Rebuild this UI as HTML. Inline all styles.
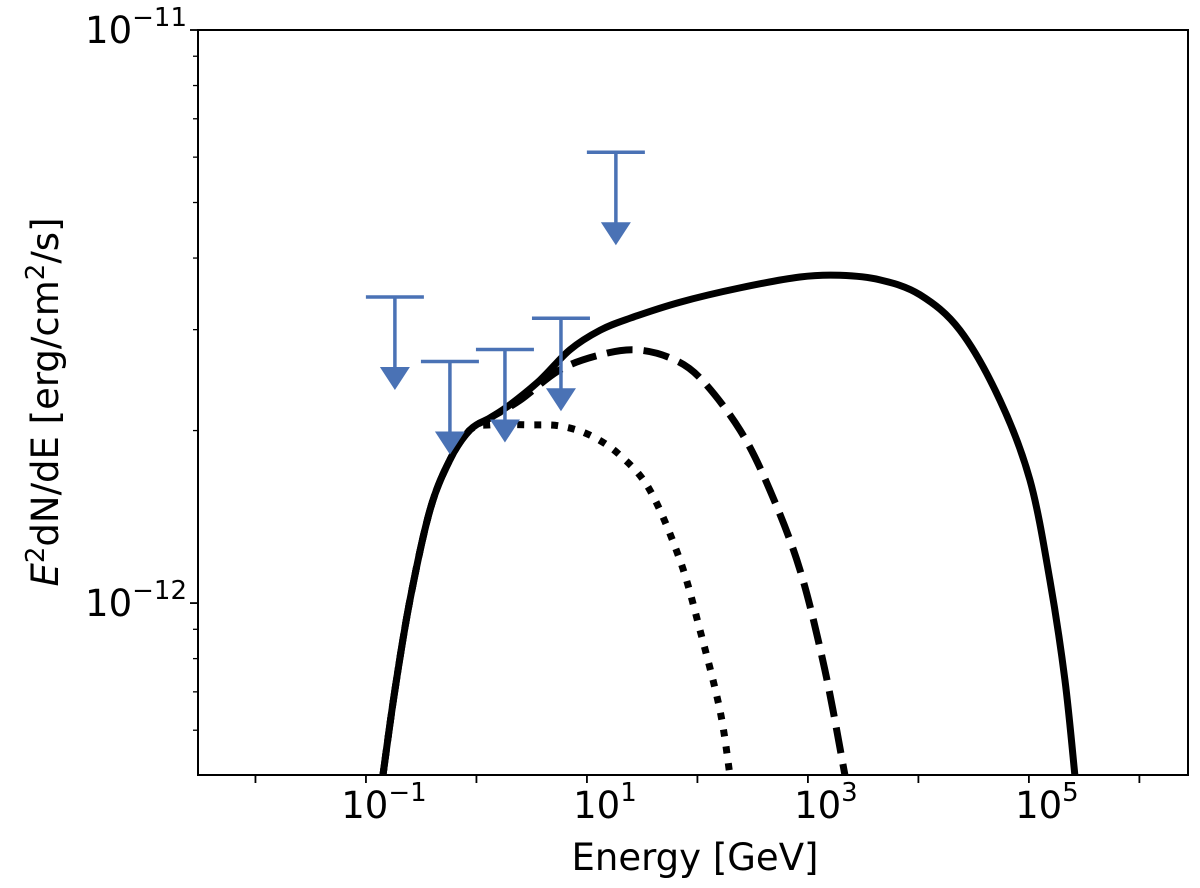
<!DOCTYPE html>
<html><head><meta charset="utf-8"><style>
body{margin:0;background:#fff;}
svg{display:block;font-family:"DejaVu Sans","Liberation Sans",sans-serif;}
</style></head><body>
<svg id="chart" width="1200" height="888" viewBox="0 0 1200 888">
<defs><clipPath id="clip"><rect x="198" y="30" width="990" height="745"/></clipPath></defs>
<rect x="0" y="0" width="1200" height="888" fill="#fff"/>
<g id="curves" clip-path="url(#clip)"></g>
<g id="limits"></g>
<g id="axes"></g>
<rect x="198" y="30" width="990" height="745" fill="none" stroke="#000" stroke-width="2"/>
<text x="695" y="870" font-size="37" text-anchor="middle">Energy [GeV]</text>
<text transform="translate(58,402) rotate(-90)" font-size="37" text-anchor="middle"><tspan font-style="italic">E</tspan><tspan dy="-14" font-size="26">2</tspan><tspan dy="14">dN/dE [erg/cm</tspan><tspan dy="-14" font-size="26">2</tspan><tspan dy="14">/s]</tspan></text>
</svg>
<script>
const ns="http://www.w3.org/2000/svg";
// data: log10(E/GeV) and log10(flux erg/cm2/s)
const solidLogE=[-0.846,-0.738,-0.602,-0.421,-0.240,-0.059,0.122,0.303,0.575,0.846,1.118,1.389,1.842,2.385,2.928,3.290,3.652,4.014,4.376,4.738,5.009,5.190,5.326,5.416];
const solidLogF=[-12.300,-12.152,-11.995,-11.838,-11.750,-11.698,-11.677,-11.654,-11.611,-11.558,-11.524,-11.503,-11.475,-11.450,-11.431,-11.428,-11.436,-11.462,-11.524,-11.646,-11.785,-11.960,-12.134,-12.300];
const dashLogE=[-0.846,-0.738,-0.602,-0.421,-0.240,-0.059,0.122,0.394,0.756,1.118,1.434,1.751,2.023,2.385,2.656,2.928,3.154,3.335];
const dashLogF=[-12.300,-12.152,-11.995,-11.838,-11.750,-11.698,-11.677,-11.646,-11.593,-11.567,-11.558,-11.572,-11.607,-11.698,-11.803,-11.942,-12.117,-12.300];
const dotLogE=[-0.846,-0.738,-0.602,-0.421,-0.240,-0.059,0.122,0.484,0.756,1.027,1.299,1.570,1.842,2.023,2.204,2.294];
const dotLogF=[-12.300,-12.152,-11.995,-11.838,-11.750,-11.698,-11.689,-11.689,-11.691,-11.707,-11.742,-11.803,-11.925,-12.047,-12.187,-12.300];
const ulLogE=[-0.738,-0.240,0.258,0.765,1.262];
const ulFlux=[3.42e-12,2.64e-12,2.77e-12,3.14e-12,6.12e-12];
const xTickExp=[-1,1,3,5];
const yTickExp=[-12,-11];

const X0=198,X1=1188,Y0=775,Y1=30;
const xmin=-2.52,xmax=6.44,ymin=-12.3,ymax=-11;
const sx=l=>X0+(l-xmin)/(xmax-xmin)*(X1-X0);
const sy=l=>Y0-(l-ymin)/(ymax-ymin)*(Y0-Y1);
function mk(t,a,p){const e=document.createElementNS(ns,t);for(const k in a)e.setAttribute(k,a[k]);p.appendChild(e);return e;}

function smooth(xs,ys){
 const P=xs.map((v,i)=>[sx(v),sy(ys[i])]);
 let d="M"+P[0][0]+","+P[0][1];
 for(let i=0;i<P.length-1;i++){
  const p0=P[i-1]||P[i],p1=P[i],p2=P[i+1],p3=P[i+2]||P[i+1];
  const c1=[p1[0]+(p2[0]-p0[0])/6,p1[1]+(p2[1]-p0[1])/6];
  const c2=[p2[0]-(p3[0]-p1[0])/6,p2[1]-(p3[1]-p1[1])/6];
  d+=` C${c1[0]},${c1[1]} ${c2[0]},${c2[1]} ${p2[0]},${p2[1]}`;
 }
 return d;
}
const cg=document.getElementById('curves');
let c;
c=mk('path',{d:smooth(dotLogE,dotLogF),fill:'none',stroke:'#000','stroke-width':7,'stroke-dasharray':'7,10'},cg);


c=mk('path',{d:smooth(dashLogE,dashLogF),fill:'none',stroke:'#000','stroke-width':7,'stroke-dasharray':'26,11'},cg);


c=mk('path',{d:smooth(solidLogE,solidLogF),fill:'none',stroke:'#000','stroke-width':7},cg);



const lg=document.getElementById('limits');
const col='#4a72b5';
ulLogE.forEach((l,i)=>{
 const x=sx(l),y=sy(Math.log10(ulFlux[i]));
 const g=mk('g',{},lg);
 
 
 mk('line',{x1:x-29,x2:x+29,y1:y,y2:y,stroke:col,'stroke-width':3.5},g);
 mk('line',{x1:x,x2:x,y1:y,y2:y+72,stroke:col,'stroke-width':3.5},g);
 mk('polygon',{points:`${x-15},${y+70} ${x+15},${y+70} ${x},${y+93}`,fill:col},g);
});

const ag=document.getElementById('axes');
for(let e=-3;e<=7;e++){
 const l=e;
 if(l<xmin||l>xmax)continue;
 const x=sx(l);
 const t=mk('line',{x1:x,x2:x,y1:Y0,y2:Y0+8,stroke:'#000','stroke-width':1.8},ag);
 
 
}
xTickExp.forEach(e=>{
 const x=sx(e);
 const t=mk('text',{x:x+18,y:818,'font-size':37,'text-anchor':'middle'},ag);
 
 
 t.innerHTML=`10<tspan dy="-17" font-size="26">${e<0?'\u2212'+(-e):e}</tspan>`;
});
for(let e=-13;e<=-11;e++){
 for(let m=1;m<10;m++){
  const l=e+Math.log10(m);
  if(l<ymin-1e-9||l>ymax+1e-9)continue;
  const y=sy(l);
  const t=mk('line',{x1:X0,x2:X0-(m===1?8:5),y1:y,y2:y,stroke:'#000','stroke-width':m===1?1.8:1.3},ag);
  
  
 }
}
yTickExp.forEach(e=>{
 const y=sy(e);
 const t=mk('text',{x:187,y:y+13,'font-size':37,'text-anchor':'end'},ag);
 
 
 t.innerHTML=`10<tspan dy="-17" font-size="26">\u2212${-e}</tspan>`;
});
</script>
</body></html>
